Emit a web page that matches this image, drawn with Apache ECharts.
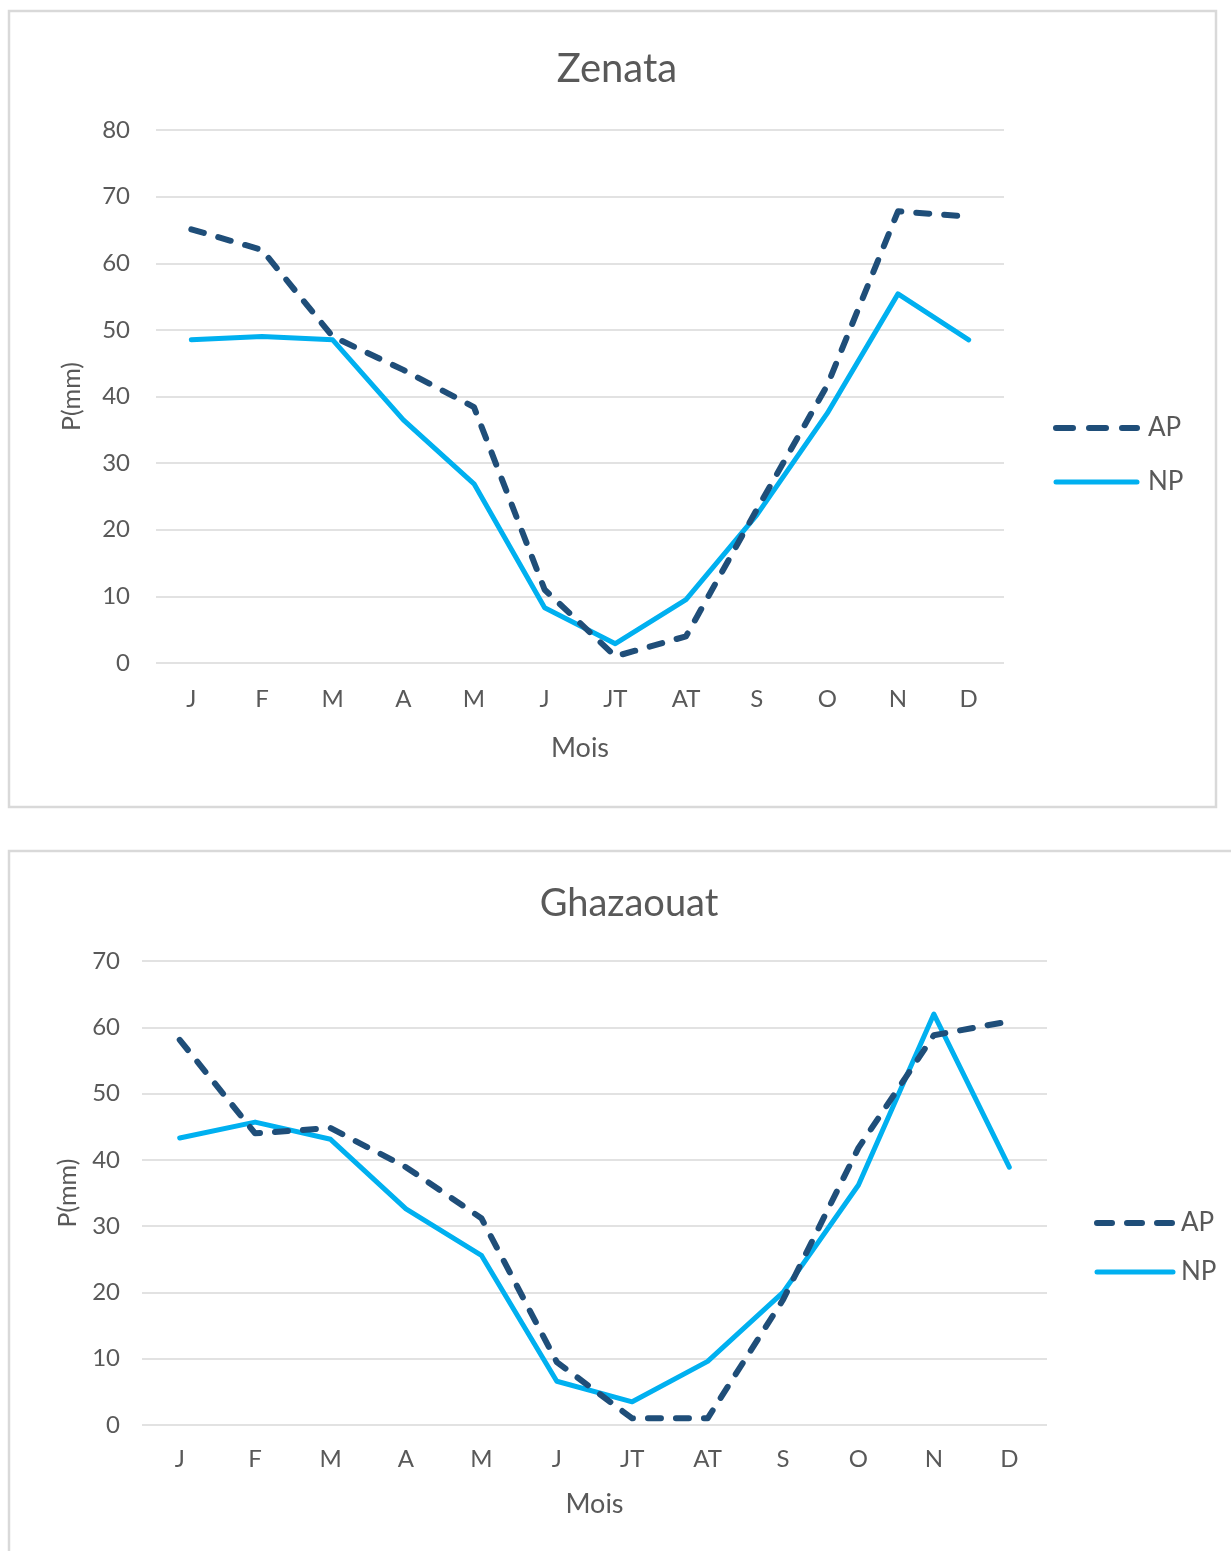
<!DOCTYPE html>
<html><head><meta charset="utf-8">
<script src="https://cdn.jsdelivr.net/npm/echarts@6/dist/echarts.min.js"></script>
<style>html,body{margin:0;padding:0;background:#fff;}#c{width:1231px;height:1551px;}</style>
</head><body><div id="c"></div>
<script>
const months = ['J','F','M','A','M','J','JT','AT','S','O','N','D'];
const zenataAP = [65.1, 62, 49, 44, 38.4, 11, 1, 4, 23, 41.7, 67.8, 67];
const zenataNP = [48.5, 49, 48.5, 36.5, 26.9, 8.3, 2.9, 9.5, 22.2, 37.5, 55.4, 48.5];
const ghazAP = [58.1, 44, 44.8, 38.9, 31.2, 9.5, 1, 1, 18.9, 41.8, 58.8, 60.9];
const ghazNP = [43.3, 45.7, 43.1, 32.6, 25.6, 6.6, 3.5, 9.6, 20, 36.2, 62, 38.9];
const zenataTicks = {min: 0, max: 80, interval: 10};
const ghazTicks = {min: 0, max: 70, interval: 10};

const FONT = 'Lato';
const GREY = '#595959';
const AP_COLOR = '#1f4e79';
const NP_COLOR = '#00b0f0';
const AP_LINE = {color: AP_COLOR, width: 6, type: [13, 15], cap: 'round', join: 'round'};
const NP_LINE = {color: NP_COLOR, width: 5, type: 'solid', cap: 'round', join: 'round'};

function xAxis(gi, margin, nameGap) {
  return {
    type: 'category', gridIndex: gi, data: months, boundaryGap: true,
    axisLine: {show: false}, axisTick: {show: false},
    axisLabel: {color: GREY, fontFamily: FONT, fontSize: 24, margin: margin},
    name: 'Mois', nameLocation: 'middle', nameGap: nameGap,
    nameTextStyle: {color: GREY, fontFamily: FONT, fontSize: 27}
  };
}
function yAxis(gi, ticks, margin, nameGap) {
  return {
    type: 'value', gridIndex: gi, min: ticks.min, max: ticks.max, interval: ticks.interval,
    axisLine: {show: false}, axisTick: {show: false},
    splitLine: {lineStyle: {color: '#d9d9d9', width: 1.5}},
    axisLabel: {color: GREY, fontFamily: FONT, fontSize: 24, margin: margin},
    name: 'P(mm)', nameLocation: 'middle', nameGap: nameGap, nameRotate: 90,
    nameTextStyle: {color: GREY, fontFamily: FONT, fontSize: 25}
  };
}
function apSeries(i, data) {
  return {name: 'AP', type: 'line', xAxisIndex: i, yAxisIndex: i, data: data,
    symbol: 'none', smooth: false, lineStyle: AP_LINE, itemStyle: {color: AP_COLOR}};
}
function npSeries(i, data) {
  return {name: 'NP', type: 'line', xAxisIndex: i, yAxisIndex: i, data: data,
    symbol: 'none', smooth: false, lineStyle: NP_LINE, itemStyle: {color: NP_COLOR}};
}
function legend(left, top, w, gap, dash, pad) {
  return {
    data: [
      {name: 'AP', lineStyle: Object.assign({}, AP_LINE, {type: dash}), itemStyle: {opacity: 0}},
      {name: 'NP', lineStyle: NP_LINE, itemStyle: {opacity: 0}}
    ],
    orient: 'vertical', left: left, top: top, itemWidth: w, itemHeight: 14, itemGap: gap,
    itemStyle: {opacity: 0},
    textStyle: {color: GREY, fontFamily: FONT, fontSize: 26, padding: [0, 0, 0, pad]}
  };
}

const chart = echarts.init(document.getElementById('c'), null, {renderer: 'canvas'});
chart.setOption({
  animation: false,
  backgroundColor: '#fff',
  graphic: [
    {type: 'rect', shape: {x: 9, y: 11, width: 1207, height: 796},
     style: {fill: 'none', stroke: '#d9d9d9', lineWidth: 2.5}, silent: true, z: -1},
    {type: 'rect', shape: {x: 9, y: 851, width: 1240, height: 760},
     style: {fill: 'none', stroke: '#d9d9d9', lineWidth: 2.5}, silent: true, z: -1}
  ],
  title: [
    {text: 'Zenata', left: 612, top: 44, textAlign: 'center',
     textStyle: {color: GREY, fontFamily: FONT, fontSize: 40, fontWeight: 'normal'}},
    {text: 'Ghazaouat', left: 624, top: 880, textAlign: 'center',
     textStyle: {color: GREY, fontFamily: FONT, fontSize: 38, fontWeight: 'normal'}}
  ],
  legend: [legend(1048, 410, 81, 28, [17, 16], 6), legend(1089, 1205, 76, 23, [15, 15], 3)],
  grid: [
    {left: 156, top: 130, width: 848, height: 533, containLabel: false},
    {left: 142, top: 961, width: 905, height: 464, containLabel: false}
  ],
  xAxis: [xAxis(0, 24, 72), xAxis(1, 22, 66)],
  yAxis: [yAxis(0, zenataTicks, 26, 72), yAxis(1, ghazTicks, 22, 62)],
  series: [
    npSeries(0, zenataNP), apSeries(0, zenataAP),
    npSeries(1, ghazNP), apSeries(1, ghazAP)
  ]
});
</script></body></html>
